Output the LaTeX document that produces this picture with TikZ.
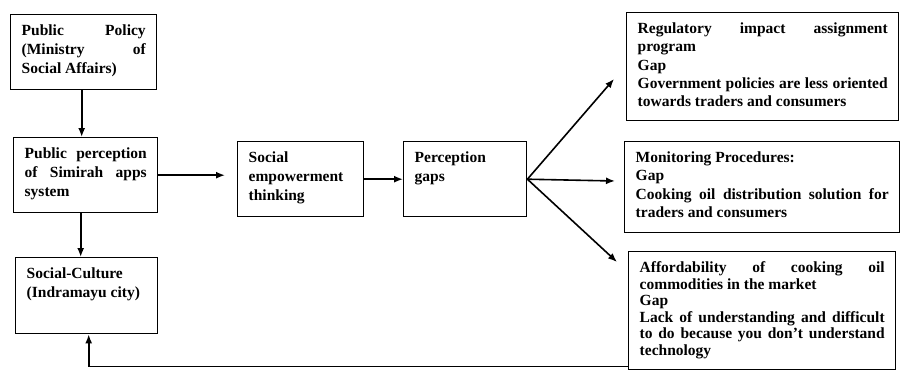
\documentclass[tikz,border=0pt]{standalone}
\usepackage{fontspec}
\setmainfont{Liberation Serif}
\usepackage{tikz}
\usetikzlibrary{arrows.meta,positioning}
\newcommand{\isi}[3]{\begin{minipage}[t][#2][t]{#1}#3\end{minipage}}
\newcommand{\kiri}{\fontsize{15.5bp}{19bp}\selectfont\bfseries}
\newcommand{\kanan}{\fontsize{15.5bp}{18.3bp}\selectfont\bfseries}
\newcommand{\rapat}{\fontsize{15.5bp}{16.5bp}\selectfont\bfseries}
\tikzstyle{blok} = [draw, line width=1.4bp, rectangle, anchor=north west, inner xsep=11bp, inner ysep=10bp]
\tikzstyle{panah} = [line width=1.6bp, -{Latex[length=9bp,width=7bp]}]
\begin{document}
\begin{tikzpicture}[x=1bp, y=-1bp]
\useasboundingbox (0,0) rectangle (900,378);
% left column
\node[blok] (pol) at (10,14) {\isi{124bp}{55bp}{\kiri Public Policy\linebreak (Ministry of\linebreak Social Affairs)}};
\node[blok] (perc) at (13,137) {\isi{122bp}{55bp}{\kiri Public perception\linebreak of Simirah apps\linebreak system}};
\node[blok] (soc) at (15,257) {\isi{120bp}{56bp}{\kiri Social-Culture\\(Indramayu city)}};
% middle
\node[blok] (emp) at (237,141) {\isi{104bp}{55bp}{\kiri Social\\empowerment\\thinking}};
\node[blok] (gap) at (403,141) {\isi{101bp}{55bp}{\kiri Perception\\gaps}};
% right column
\node[blok] (reg) at (626,12) {\isi{250bp}{88bp}{\kanan Regulatory impact assignment\linebreak program\\Gap\\Government policies are less oriented\linebreak towards traders and consumers}};
\node[blok] (mon) at (624,141) {\isi{253bp}{71bp}{\kanan Monitoring Procedures:\\Gap\\Cooking oil distribution solution for\linebreak traders and consumers}};
\node[blok] (aff) at (628,251) {\isi{245bp}{98bp}{\rapat Affordability of cooking oil\linebreak commodities in the market\\Gap\\Lack of understanding and difficult\linebreak to do because you don’t understand\linebreak technology}};
% arrows
\coordinate (t1) at (614,79);
\coordinate (t2) at (615,181);
\coordinate (t3) at (617,262);
\draw[panah] ([xshift=-2bp]pol.south) -- ([xshift=-2bp]pol.south |- perc.north);
\draw[panah] ([xshift=-5bp]perc.south) -- ([xshift=-5bp]perc.south |- soc.north);
\draw[panah, shorten >=12bp] (perc.east) -- (perc.east -| emp.west);
\draw[panah] (emp.east) -- (emp.east -| gap.west);
\draw[panah] (gap.east) -- (t1);
\draw[panah] (gap.east) -- (t2);
\draw[panah] (gap.east) -- (t3);
\draw[panah] ([yshift=4bp]aff.south west) -| ([xshift=2bp]soc.south);
\end{tikzpicture}
\end{document}
